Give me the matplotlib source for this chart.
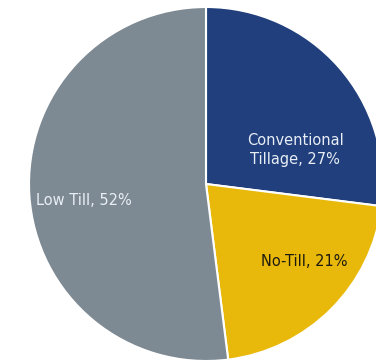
import matplotlib
matplotlib.use("Agg")
import matplotlib.pyplot as plt

categories = ["Conventional\nTillage", "No-Till", "Low Till"]
shares = [27, 21, 52]
colors = ["#203f7c", "#e8b90b", "#7e8a93"]
text_colors = ["#e9eef6", "#1e1a10", "#e9eef6"]
label_pos = [(0.503, 0.192), (0.556, -0.44), (-0.692, -0.095)]

W, H = 376, 361
fig = plt.figure(figsize=(W / 100, H / 100), dpi=100)
ax = fig.add_axes([0, 0, 1, 1])

ax.pie(shares, colors=colors, startangle=90, counterclock=False,
       radius=1.0, wedgeprops=dict(edgecolor="white", linewidth=1.5))

# map the unit pie so its centre sits at (206, 184) px with a 177 px radius
cx, cy, r = 206, 184, 177
ax.set_xlim(-cx / r, (W - cx) / r)
ax.set_ylim(-(H - cy) / r, cy / r)
ax.set_aspect("auto")
ax.axis("off")

for name, val, (x, y), tc in zip(categories, shares, label_pos, text_colors):
    ax.text(x, y, f"{name}, {val}%", ha="center", va="center",
            fontsize=10.5, color=tc, family="DejaVu Sans", linespacing=1.3)

fig.savefig("out.png", dpi=100)
